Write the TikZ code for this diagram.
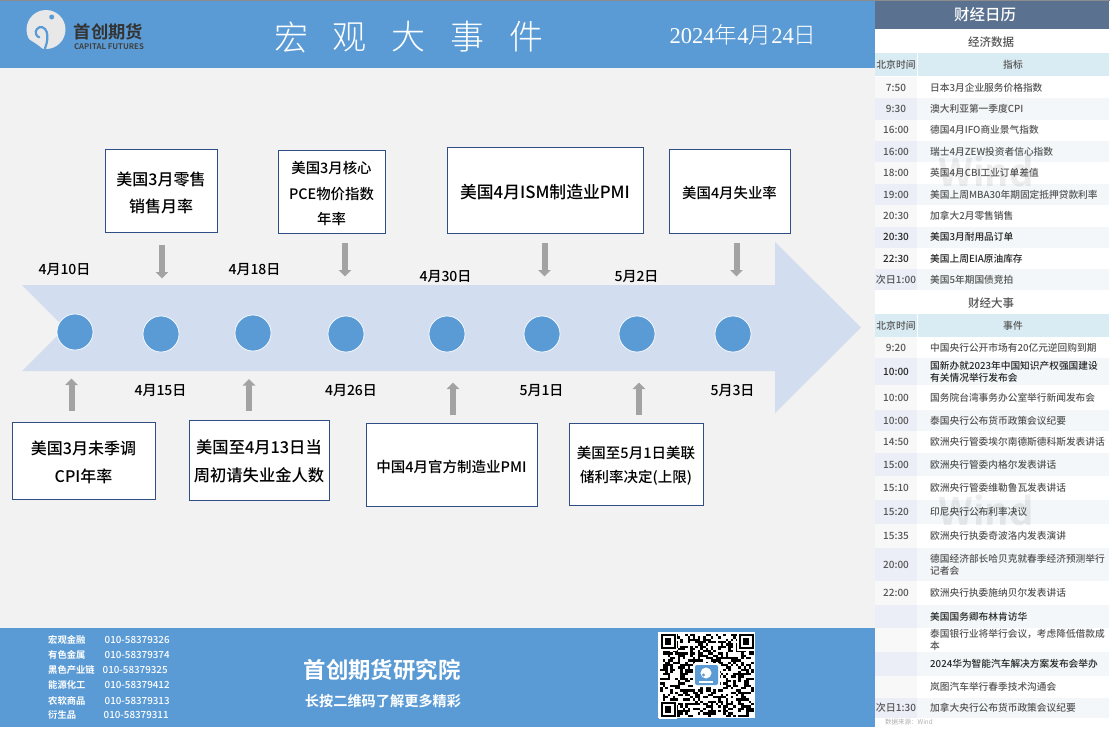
\documentclass[tikz,border=0pt]{standalone}
\usepackage{fontspec}
\usetikzlibrary{arrows.meta}
\setmainfont{Noto Sans CJK SC}
\newfontfamily\cjklight{Noto Sans CJK SC}[UprightFont=* Light,BoldFont=* Medium]
\newfontfamily\cjkbold{Noto Sans CJK SC}[UprightFont=* Bold]
\newfontfamily\cjkmed{Noto Sans CJK SC}[UprightFont=* Medium]
\newfontfamily\serifdigits{Liberation Serif}
\newcommand{\fsz}[1]{\fontsize{#1pt}{#1pt}\selectfont}
\definecolor{mainblue}{HTML}{5B9BD5}
\definecolor{shaftblue}{HTML}{D2DDEF}
\definecolor{pagegray}{HTML}{F2F2F2}
\definecolor{boxline}{HTML}{2F4E85}
\definecolor{arrowgray}{HTML}{A3A3A3}
\definecolor{panelhead}{HTML}{5A7190}
\definecolor{colhead}{HTML}{DAECF3}
\definecolor{rowalt}{HTML}{F3F7F9}
\definecolor{timealt}{HTML}{EBEEF6}
\definecolor{timeplain}{HTML}{F8F8F9}
\definecolor{paneltext}{HTML}{555555}
\newcounter{pnode}
\newcommand{\prow}[6]{% y1,y2,alt(0/1),time,text,bold(0/1)
  \stepcounter{pnode}
  \ifnum#3=1
    \fill[rowalt] (917,#1) rectangle (1109,#2);
    \fill[timealt] (875,#1) rectangle (917,#2);
  \else
    \fill[timeplain] (875,#1) rectangle (917,#2);
  \fi
  \ifnum#6=1
    \node[timecell,text=black!85] (pt\thepnode) at (896,{(#1+#2)/2}) {#4};
    \node[rowcell,text=black!85] (px\thepnode) at (930,{(#1+#2)/2}) {#5};
  \else
    \node[timecell] (pt\thepnode) at (896,{(#1+#2)/2}) {#4};
    \node[rowcell] (px\thepnode) at (930,{(#1+#2)/2}) {#5};
  \fi
}
\tikzset{
  x=1pt,y=-1pt,
  evbox/.style={draw=boxline,line width=0.9pt,fill=white,inner sep=0pt,align=center},
  boxtext/.style={font=\cjkmed\fsz{#1}},
  datelabel/.style={font=\cjkmed\fsz{14},inner sep=0pt},
  dot/.style={circle,fill=mainblue,draw=white,line width=0.7pt,minimum size=36pt,inner sep=0pt},
  blockarrow/.style={draw=arrowgray,line width=6pt,-{Triangle[length=6.5pt,width=12.5pt]}},
  timecell/.style={font=\cjkmed\fsz{10},text=paneltext,inner sep=0pt},
  rowcell/.style={font=\cjkmed\fsz{9.7},text=paneltext,inner sep=0pt,anchor=west,align=left},
  colcell/.style={font=\cjkmed\fsz{9.8},text=paneltext,inner sep=0pt},
  sect/.style={font=\cjkmed\fsz{11.5},text=paneltext,inner sep=0pt},
  contact/.style={font=\cjkbold\fsz{9.3},text=white,inner sep=0pt,anchor=west},
  phone/.style={font=\cjkmed\fsz{9.8},text=white,inner sep=0pt,anchor=west},
  wmstyle/.style={font=\cjkbold\fsz{38},text=black,opacity=0.07,inner sep=0pt},
}
\begin{document}
\begin{tikzpicture}
\useasboundingbox (0,0) rectangle (1110,729);
\fill[white] (0,0) rectangle (1110,729);
\fill[pagegray] (0,68) rectangle (875,628);
\fill[mainblue] (0,1) rectangle (875,68);
\fill[mainblue] (0,628) rectangle (875,727);
\fill[black!45] (0,0) rectangle (1110,1);

% logo
\fill[black!9] (46,29.5) circle (19.5);
\fill[mainblue] (24,35.5) .. controls (30,41) and (37,43) .. (44.5,51) -- (24,52) -- cycle;
\draw[mainblue,line width=2.2pt,line cap=round] (45,48.5) .. controls (47.5,42) and (48,36) .. (46.7,32)
  .. controls (45.5,27.5) and (40,25) .. (37,29) .. controls (34.5,32) and (36,36.5) .. (39.3,37.3);
\fill[mainblue] (51.7,17) circle (2.5);
\node[font=\cjkbold\fsz{17.3},text=black!80,inner sep=0pt] (logotext) at (108.5,32) {首创期货};
\node[font=\cjkbold\fsz{7.8},text=black!75,inner sep=0pt] (logosub) at (109,46.5) {CAPITAL FUTURES};

% title
\node[font=\cjklight\fsz{34},text=white,inner sep=0pt] (ti1) at (291,37) {宏};
\node[font=\cjklight\fsz{34},text=white,inner sep=0pt] (ti2) at (349.5,37) {观};
\node[font=\cjklight\fsz{34},text=white,inner sep=0pt] (ti3) at (408,37) {大};
\node[font=\cjklight\fsz{34},text=white,inner sep=0pt] (ti4) at (467,37) {事};
\node[font=\cjklight\fsz{34},text=white,inner sep=0pt] (ti5) at (526,37) {件};
\node[text=white,inner sep=0pt,font=\cjklight\fsz{22.6}] (tdate) at (743,35) {{\serifdigits 2024}年{\serifdigits 4}月{\serifdigits 24}日};

% timeline arrow
\fill[shaftblue] (22,285) -- (775,285) -- (775,242) -- (861,327.5) -- (775,413) -- (775,371) -- (22,371) -- (65,328) -- cycle;

% dots
\node[dot] (d1) at (75,332) {};
\node[dot] (d2) at (161,334) {};
\node[dot] (d3) at (253,333) {};
\node[dot] (d4) at (346,334) {};
\node[dot] (d5) at (447,334) {};
\node[dot] (d6) at (542,334) {};
\node[dot] (d7) at (637,334) {};
\node[dot] (d8) at (733,334) {};

% dates
\node[datelabel] (l1) at (64.5,270) {4月10日};
\node[datelabel] (l3) at (254.5,270) {4月18日};
\node[datelabel] (l5) at (445.5,277) {4月30日};
\node[datelabel] (l7) at (636.5,277) {5月2日};
\node[datelabel] (l2) at (160.5,391) {4月15日};
\node[datelabel] (l4) at (351,391) {4月26日};
\node[datelabel] (l6) at (541.5,391) {5月1日};
\node[datelabel] (l8) at (732.5,391) {5月3日};

% event boxes
\node[evbox,boxtext=16,minimum width=112pt,minimum height=83pt] (ba) at (161,190.5) {\rule{0pt}{18pt}美国3月零售\\[11pt]销售月率};
\node[evbox,boxtext=14.4,minimum width=107pt,minimum height=83pt] (bb) at (331.5,191.5) {\rule{0pt}{16.7pt}美国3月核心\\[11pt]PCE物价指数\\[11pt]年率};
\node[evbox,boxtext=16.8,minimum width=196pt,minimum height=86pt] (bc) at (545,190) {\rule{0pt}{18pt}美国4月ISM制造业PMI};
\node[evbox,boxtext=14.4,minimum width=121pt,minimum height=84pt] (bd) at (729.5,191) {\rule{0pt}{16.7pt}美国4月失业率};
\node[evbox,boxtext=16,minimum width=143pt,minimum height=77pt] (be) at (83.5,460.5) {\rule{0pt}{17pt}美国3月未季调\\[11.5pt]CPI年率};
\node[evbox,boxtext=16.3,minimum width=140pt,minimum height=80pt] (bf) at (259,460) {\rule{0pt}{17pt}美国至4月13日当\\[11.5pt]周初请失业金人数};
\node[evbox,boxtext=14.5,minimum width=171pt,minimum height=83pt] (bg) at (451.5,464.5) {\rule{0pt}{16.7pt}中国4月官方制造业PMI};
\node[evbox,boxtext=14.5,minimum width=134pt,minimum height=82pt] (bh) at (636,464) {\rule{0pt}{16.7pt}美国至5月1日美联\\[9.5pt]储利率决定(上限)};

% connectors
\coordinate (as1) at (162,245); \coordinate (ae1) at (162,278.5);
\coordinate (as2) at (345,243); \coordinate (ae2) at (345,276.5);
\coordinate (as3) at (544.5,243); \coordinate (ae3) at (544.5,276.5);
\coordinate (as4) at (736.5,243); \coordinate (ae4) at (736.5,276.5);
\coordinate (as5) at (71.5,411); \coordinate (ae5) at (71.5,378.5);
\coordinate (as6) at (249,411); \coordinate (ae6) at (249,379);
\coordinate (as7) at (453,415); \coordinate (ae7) at (453,382.5);
\coordinate (as8) at (639,415); \coordinate (ae8) at (639,382.5);
\foreach \i in {1,...,8} {\draw[blockarrow] (as\i) -- (ae\i);}

% footer
\node[contact] (c1) at (48,640) {宏观金融};
\node[contact] (c2) at (48,655) {有色金属};
\node[contact] (c3) at (48,670) {黑色产业链};
\node[contact] (c4) at (48,684.5) {能源化工};
\node[contact] (c5) at (48,701) {农软商品};
\node[contact] (c6) at (48,715) {衍生品};
\node[phone] (p1) at (104.5,639.5) {010-58379326};
\node[phone] (p2) at (104.5,654.5) {010-58379374};
\node[phone] (p3) at (102.5,669.5) {010-58379325};
\node[phone] (p4) at (104.5,684.5) {010-58379412};
\node[phone] (p5) at (104.5,700.5) {010-58379313};
\node[phone] (p6) at (103.5,714.5) {010-58379311};
\node[font=\cjkbold\fsz{22.4},text=white,inner sep=0pt] (inst) at (382,669.5) {首创期货研究院};
\node[font=\cjkbold\fsz{14.2},text=white,inner sep=0pt] (scan) at (383,701.5) {长按二维码了解更多精彩};

% QR
\fill[white] (658,632) rectangle (755,718);
\begin{scope}
\pgfmathsetseed{4242}
\foreach \i in {0,...,36} {\foreach \j in {0,...,35} {
  \pgfmathparse{rnd}
  \ifdim\pgfmathresult pt>0.52pt
    \fill[black] ({660+\i*2.53},{634+\j*2.3}) rectangle +(2.53,2.3);
  \fi
}}
\end{scope}
\foreach \qx/\qy in {660.5/634,660.5/702,738.5/634} {
  \fill[white] (\qx-1.5,\qy-1) rectangle +(18,18);
  \fill[black] (\qx,\qy) rectangle +(15,15);
  \fill[white] (\qx+2,\qy+2) rectangle +(11,11);
  \fill[black] (\qx+4.2,\qy+4.2) rectangle +(6.6,6.6);
}
\fill[white,rounded corners=2pt] (693,663) rectangle (720,687);
\fill[mainblue,rounded corners=2pt] (695,665) rectangle (718,685);
\fill[white] (706,673) circle (5.5);
\fill[mainblue] (703.5,675) circle (1.6);
\fill[white] (699,681) rectangle (713,683);

% right panel
\fill[panelhead] (875,1) rectangle (1109,29);
\node[font=\cjkmed\fsz{15.5},text=white,inner sep=0pt] (ph) at (985,15) {财经日历};
\fill[white] (875,29) rectangle (1109,53);
\node[sect] (s1) at (991,42) {经济数据};
\fill[colhead] (875,53) rectangle (1109,76);
\fill[white] (917,53) rectangle (918,76);
\node[colcell] (h1a) at (896,65) {北京时间};
\node[colcell] (h1b) at (1013,65) {指标};

\fill[white] (875,76) rectangle (1109,718);

\prow{77}{98}{0}{7:50}{日本3月企业服务价格指数}{0}
\prow{98}{119.5}{1}{9:30}{澳大利亚第一季度CPI}{0}
\prow{119.5}{141}{0}{16:00}{德国4月IFO商业景气指数}{0}
\prow{141}{162}{1}{16:00}{瑞士4月ZEW投资者信心指数}{0}
\prow{162}{184}{0}{18:00}{英国4月CBI工业订单差值}{0}
\prow{184}{205}{1}{19:00}{美国上周MBA30年期固定抵押贷款利率}{0}
\prow{205}{226.5}{0}{20:30}{加拿大2月零售销售}{0}
\prow{226.5}{248}{1}{20:30}{美国3月耐用品订单}{1}
\prow{248}{269}{0}{22:30}{美国上周EIA原油库存}{1}
\prow{269}{290}{1}{次日1:00}{美国5年期国债竞拍}{0}

\fill[white] (875,290) rectangle (1109,314);
\node[sect] (s2) at (991,303) {财经大事};
\fill[colhead] (875,314) rectangle (1109,337);
\fill[white] (917,314) rectangle (918,337);
\node[colcell] (h2a) at (896,326) {北京时间};
\node[colcell] (h2b) at (1013,326) {事件};

\prow{337}{358}{0}{9:20}{中国央行公开市场有20亿元逆回购到期}{0}
\prow{358}{385}{1}{10:00}{国新办就2023年中国知识产权强国建设\\[2pt]有关情况举行发布会}{1}
\prow{385}{410}{0}{10:00}{国务院台湾事务办公室举行新闻发布会}{0}
\prow{410}{431}{1}{10:00}{泰国央行公布货币政策会议纪要}{0}
\prow{431}{453}{0}{14:50}{欧洲央行管委埃尔南德斯德科斯发表讲话}{0}
\prow{453}{476}{1}{15:00}{欧洲央行管委内格尔发表讲话}{0}
\prow{476}{500}{0}{15:10}{欧洲央行管委维勒鲁瓦发表讲话}{0}
\prow{500}{524}{1}{15:20}{印尼央行公布利率决议}{0}
\prow{524}{548}{0}{15:35}{欧洲央行执委奇波洛内发表演讲}{0}
\prow{548}{581}{1}{20:00}{德国经济部长哈贝克就春季经济预测举行\\[2pt]记者会}{0}
\prow{581}{605}{0}{22:00}{欧洲央行执委施纳贝尔发表讲话}{0}
\prow{605}{628}{1}{}{美国国务卿布林肯访华}{1}
\prow{628}{652}{0}{}{泰国银行业将举行会议，考虑降低借款成\\[2pt]本}{0}
\prow{652}{676}{1}{}{2024华为智能汽车解决方案发布会举办}{1}
\prow{676}{698}{0}{}{岚图汽车举行春季技术沟通会}{0}
\prow{698}{718}{1}{次日1:30}{加拿大央行公布货币政策会议纪要}{0}

\node[wmstyle] (wm1) at (986,171) {Wind};
\node[wmstyle] (wm2) at (986,510) {Wind};

\node[font=\cjklight\fsz{6.5},text=black!45,inner sep=0pt,anchor=west] (src) at (885,722) {数据来源：Wind};
\end{tikzpicture}
\end{document}
